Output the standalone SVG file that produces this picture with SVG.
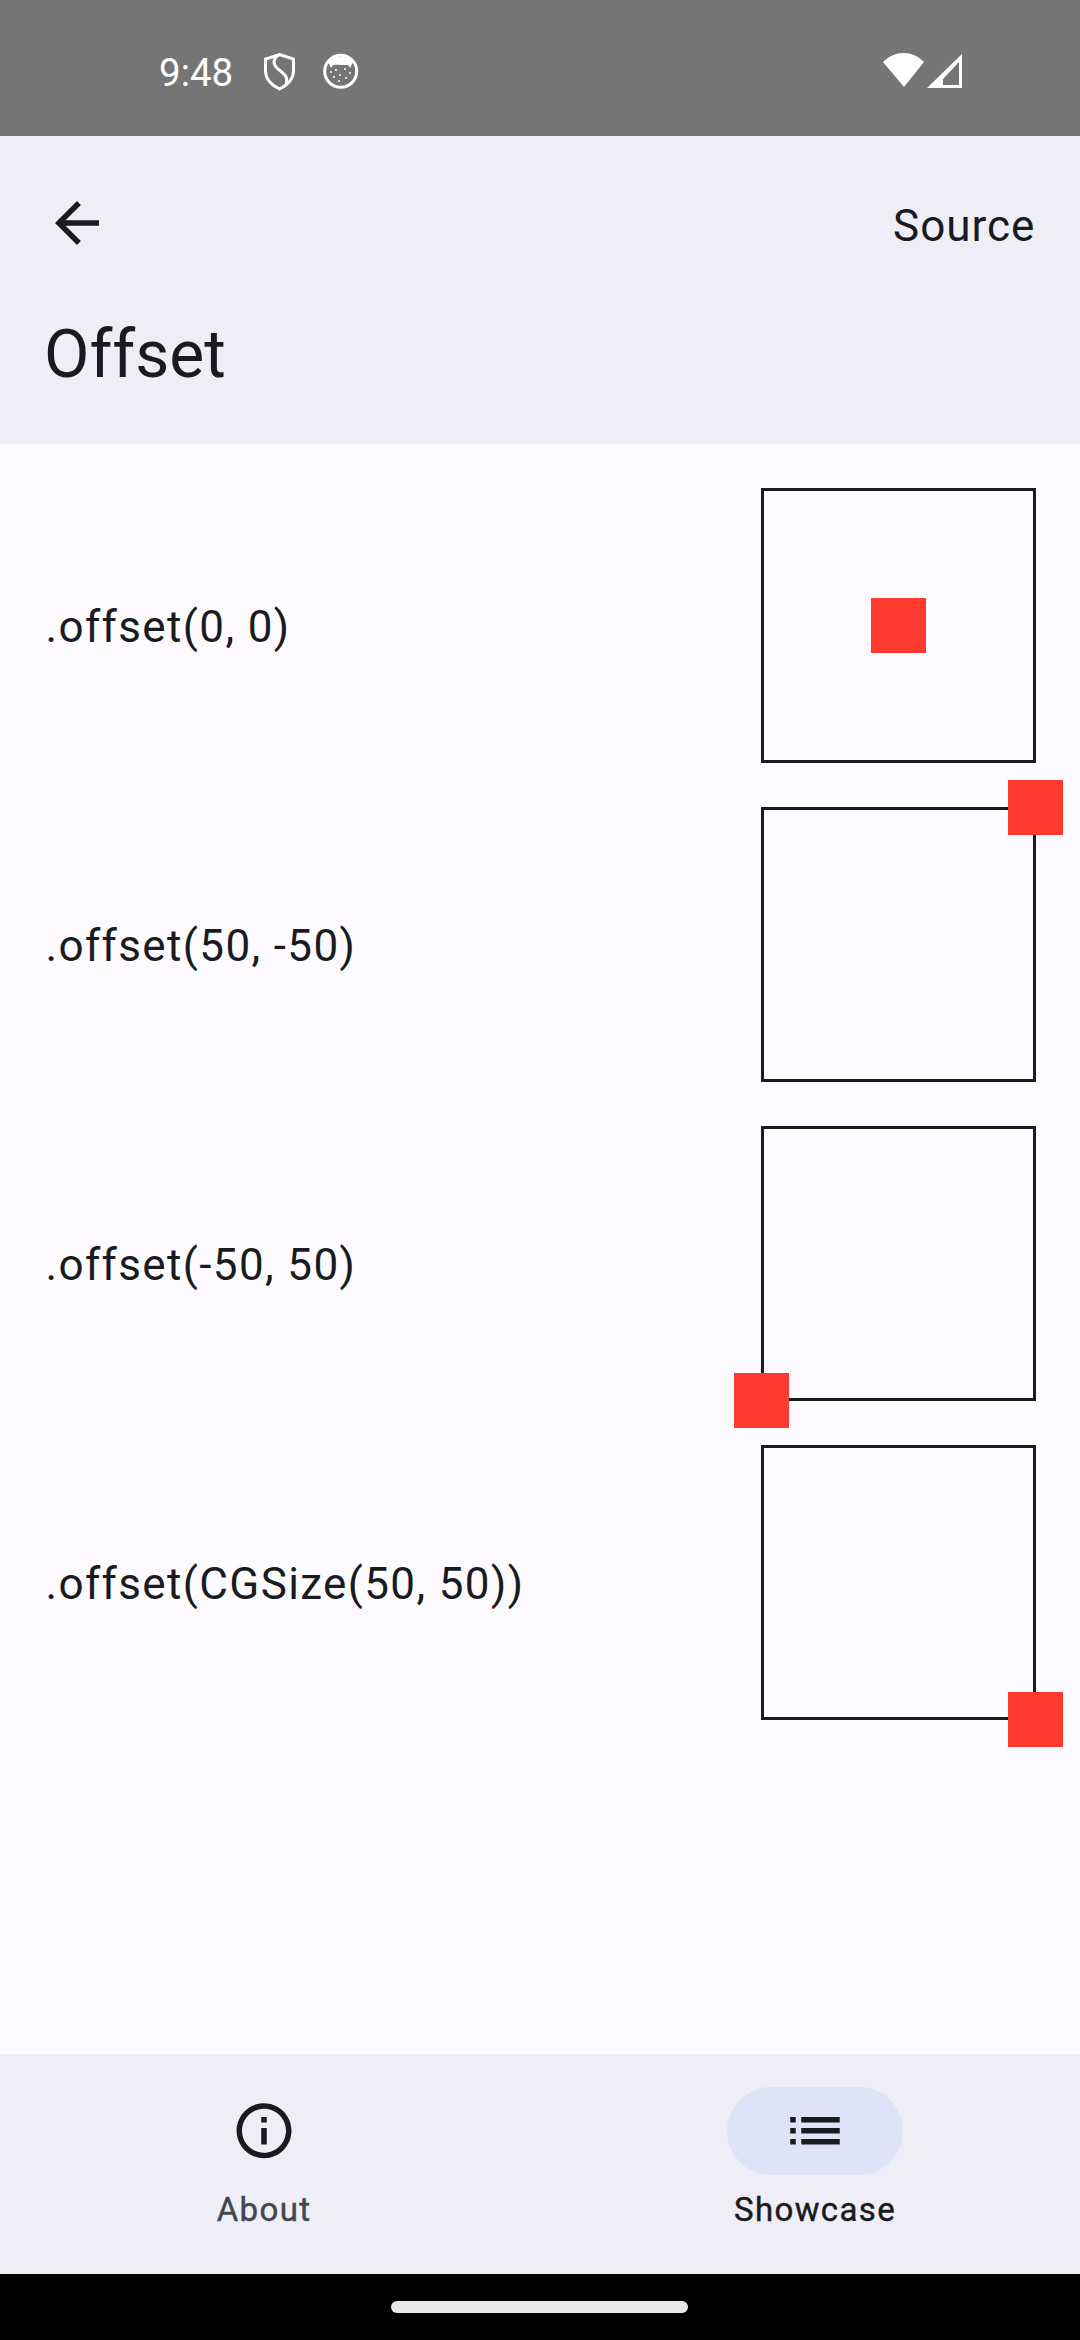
<svg xmlns="http://www.w3.org/2000/svg" width="1080" height="2340" viewBox="0 0 1080 2340">
<style>
text{font-family:Roboto,"Liberation Sans",sans-serif;fill:#1a1b20}
.lbl{font-size:44px;letter-spacing:1.375px}
.box{fill:none;stroke:#1a1b20;stroke-width:3}
.red{fill:#ff3b30}
.nav{font-size:33px;font-weight:400;letter-spacing:1.375px;text-anchor:middle;stroke-width:.45px}
.ic{fill:#1a1b20}
.w{fill:#fff}
.ws{fill:none;stroke:#fff}
</style>
<rect width="1080" height="2340" fill="#fdfbff"/>
<g id="status-bar">
<rect width="1080" height="136" fill="#757575"/>
<text x="159" y="86" font-size="38.5" style="fill:#fff">9:48</text>
<g id="shield-icon"><path class="ws" stroke-width="3" d="M279.500 54.500L293.500 59V71C293.500 79 287 85.500 279.500 89C272 85.500 265.500 79 265.500 71V59Z"/><path class="ws" stroke-width="3" d="M279 55C273 58 272.500 64 277 68C282 73 289 75 286 85"/></g>
<g id="face-icon"><circle class="ws" cx="340.700" cy="71.300" r="16" stroke-width="3"/><path class="w" d="M328 62C333 55 348 55 353 62L350 68C349 64 346 65 344 65C338 65 335 64 332 66L331 68Z"/><g class="w"><circle cx="331" cy="72" r="1"/><circle cx="336" cy="70" r="1"/><circle cx="345" cy="69" r="1"/><circle cx="350" cy="73" r="1"/><circle cx="334" cy="77" r="1"/><circle cx="340" cy="75" r="1"/><circle cx="346" cy="78" r="1"/><circle cx="339" cy="81" r="1"/></g></g>
<g id="wifi-icon"><path class="w" d="M883 62C895 50 912 50 924 62L904 87Z"/></g>
<g id="signal-icon"><path class="w" fill-rule="evenodd" d="M962 54V88H927ZM959 62L943 79V85H959Z"/></g>
</g>
<g id="top-bar">
<rect y="136" width="1080" height="308" fill="#efeef6"/>
<path class="ic" transform="translate(44 190) scale(2.75)" d="M20 11H7.830l5.590-5.590L12 4l-8 8 8 8 1.410-1.410L7.830 13H20v-2z"/>
<text x="893" y="240.500" font-size="44" letter-spacing="1.000">Source</text>
<text x="44" y="377" font-size="66">Offset</text>
</g>
<g id="row1"><text class="lbl" x="45.500" y="642">.offset(0, 0)</text><rect class="box" x="762.500" y="489.500" width="272" height="272"/><rect class="red" x="871" y="598" width="55" height="55"/></g>
<g id="row2"><text class="lbl" x="45.500" y="961">.offset(50, -50)</text><rect class="box" x="762.500" y="808.500" width="272" height="272"/><rect class="red" x="1008" y="780" width="55" height="55"/></g>
<g id="row3"><text class="lbl" x="45.500" y="1280">.offset(-50, 50)</text><rect class="box" x="762.500" y="1127.500" width="272" height="272"/><rect class="red" x="734" y="1373" width="55" height="55"/></g>
<g id="row4"><text class="lbl" x="45.500" y="1599">.offset(CGSize(50, 50))</text><rect class="box" x="762.500" y="1446.500" width="272" height="272"/><rect class="red" x="1008" y="1692" width="55" height="55"/></g>
<g id="nav-bar">
<rect y="2054" width="1080" height="220" fill="#efeef6"/>
<g id="nav-about"><path class="ic" transform="translate(231 2097.700) scale(2.75)" fill-rule="evenodd" d="M11 7h2v2h-2zM11 11h2v6h-2zM12 2C6.480 2 2 6.480 2 12s4.480 10 10 10 10-4.480 10-10S17.520 2 12 2zM12 20c-4.410 0-8-3.590-8-8s3.590-8 8-8 8 3.590 8 8-3.590 8-8 8z"/><text class="nav" x="264" y="2221" style="fill:#44464f;stroke:#44464f">About</text></g>
<g id="nav-showcase"><rect x="727" y="2087" width="176" height="88" rx="44" fill="#dee3f8"/><path class="ic" transform="translate(782 2097.700) scale(2.75)" d="M3 13h2v-2H3v2zM3 17h2v-2H3v2zM3 9h2V7H3v2zM7 13h14v-2H7v2zM7 17h14v-2H7v2zM7 7v2h14V7H7z"/><text class="nav" x="815" y="2221" style="stroke:#1a1b20">Showcase</text></g>
</g>
<g id="gesture-bar">
<rect y="2274" width="1080" height="66" fill="#000"/>
<rect x="391" y="2301" width="297" height="12" rx="6" fill="#e8e8e8"/>
</g>
</svg>
